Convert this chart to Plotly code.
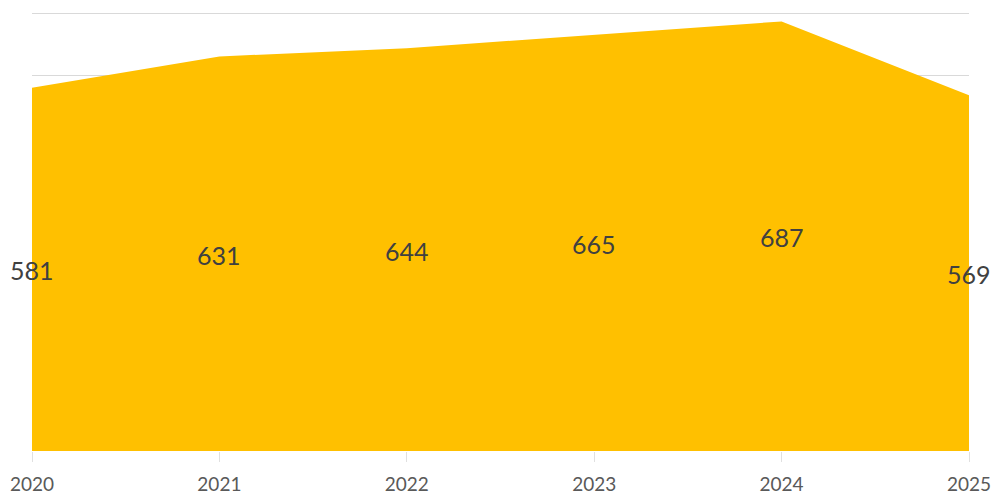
import plotly.graph_objects as go

years = ["2020", "2021", "2022", "2023", "2024", "2025"]
values = [581, 631, 644, 665, 687, 569]
y_ticks = [0, 100, 200, 300, 400, 500, 600, 700]

fig = go.Figure()
fig.add_trace(go.Scatter(
    x=years, y=values, mode="lines", fill="tozeroy",
    line=dict(color="#FFC000", width=0), fillcolor="#FFC000",
    hoverinfo="skip", showlegend=False,
))

for i, v in enumerate(values):
    fig.add_annotation(
        x=i, y=v / 2, text=str(v), showarrow=False, yshift=-1,
        font=dict(family="Lato", size=25, color="#404040"),
        xanchor="center", yanchor="middle",
    )

fig.update_layout(
    width=994, height=494,
    margin=dict(l=32, r=25, t=12, b=43, autoexpand=False),
    paper_bgcolor="white", plot_bgcolor="white",
    xaxis=dict(
        type="category", range=[0, 5], showgrid=False, zeroline=False,
        showline=False, ticks="outside", ticklen=10, tickcolor="#E0E0E0",
        automargin=False, ticklabelstandoff=6,
        tickfont=dict(family="Lato", size=19, color="#595959"),
    ),
    yaxis=dict(
        range=[0, 702], tickvals=y_ticks, showticklabels=False,
        showgrid=True, gridcolor="#D9D9D9", gridwidth=1,
        zeroline=False, showline=False, automargin=False,
    ),
)

fig.write_html(
    "out.html",
    config={"displayModeBar": False},
    post_script="document.body.style.margin='0';document.body.style.overflow='hidden';",
)
